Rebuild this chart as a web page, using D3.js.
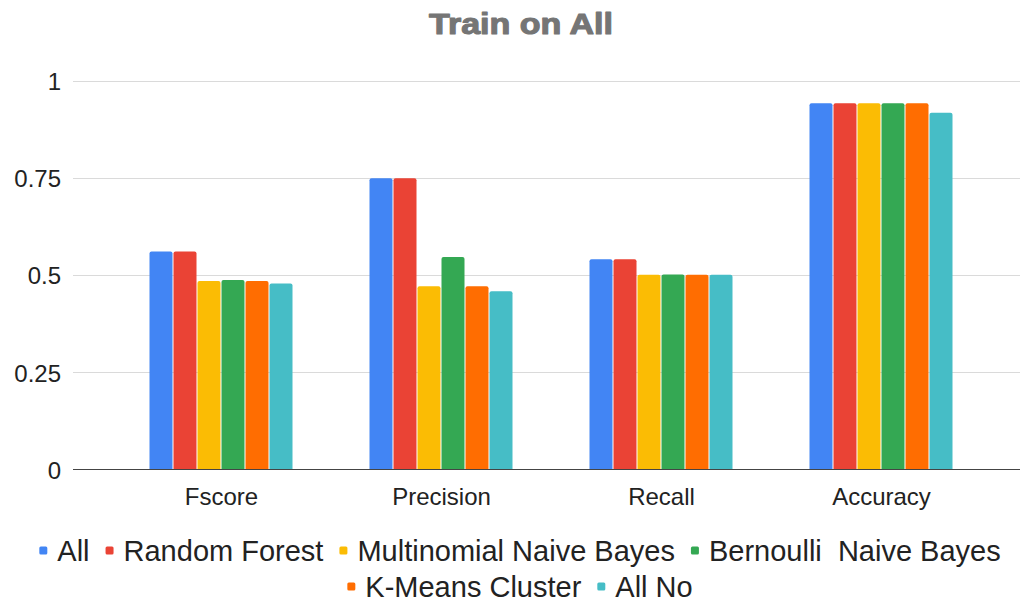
<!DOCTYPE html>
<html>
<head>
<meta charset="utf-8">
<script src="https://cdn.jsdelivr.net/npm/d3@7/dist/d3.min.js"></script>
<style>
  html, body { margin: 0; padding: 0; background: #fff; }
  svg { display: block; font-family: "Liberation Sans", Arial, sans-serif; }
</style>
</head>
<body>
<svg id="chart" width="1020" height="602"></svg>
<script>
// Metrics on the x axis
const categories = ["Fscore", "Precision", "Recall", "Accuracy"];

// One array per model, in category order
const seriesNames = ["All", "Random Forest", "Multinomial Naive Bayes", "Bernoulli  Naive Bayes", "K-Means Cluster", "All No"];
const allValues         = [0.561, 0.750, 0.541, 0.943];
const randomForest      = [0.561, 0.750, 0.541, 0.943];
const multinomialNB     = [0.485, 0.472, 0.501, 0.943];
const bernoulliNB       = [0.488, 0.547, 0.502, 0.943];
const kMeansCluster     = [0.485, 0.472, 0.501, 0.943];
const allNo             = [0.479, 0.459, 0.501, 0.918];
const seriesValues = [allValues, randomForest, multinomialNB, bernoulliNB, kMeansCluster, allNo];
const colors = ["#4285F4", "#EA4335", "#FBBC04", "#34A853", "#FF6D01", "#46BDC6"];

const yTicks = [0, 0.25, 0.5, 0.75, 1];
const yTickLabels = ["0", "0.25", "0.5", "0.75", "1"];

const svg = d3.select("#chart");

const plotLeft = 73, plotRight = 1020;
const y = d3.scaleLinear().domain([0, 1]).range([469.5, 81]);

const pi = 76 / 220;
const x0 = d3.scaleBand().domain(categories).range([111.5, 991.5])
  .paddingInner(pi).paddingOuter(pi / 2);
const x1 = d3.scaleBand().domain(seriesNames).range([0, x0.bandwidth()]);

// Title
svg.append("text")
  .attr("x", 521).attr("y", 34)
  .attr("text-anchor", "middle")
  .attr("font-size", 29).attr("font-weight", "bold")
  .attr("fill", "#757575").attr("stroke", "#757575").attr("stroke-width", 1.1)
  .attr("stroke-linejoin", "round")
  .attr("textLength", 184).attr("lengthAdjust", "spacingAndGlyphs")
  .text("Train on All");

// Gridlines
svg.append("g").selectAll("line")
  .data(yTicks.filter(d => d > 0))
  .join("line")
  .attr("x1", plotLeft).attr("x2", plotRight)
  .attr("y1", d => Math.round(y(d)) + 0.5).attr("y2", d => Math.round(y(d)) + 0.5)
  .attr("stroke", "#dadada").attr("stroke-width", 1);

// Y axis labels
const yAxis = d3.axisLeft(y).tickValues(yTicks)
  .tickFormat((d, i) => yTickLabels[i]).tickSize(0).tickPadding(0);
const yg = svg.append("g").attr("transform", "translate(61,0)").call(yAxis);
yg.select(".domain").remove();
yg.selectAll("text")
  .attr("font-size", 24).attr("fill", "#222").attr("font-family", null)
  .attr("dy", "0.36em");

// Bars
const groups = svg.append("g").selectAll("g")
  .data(categories)
  .join("g")
  .attr("transform", d => `translate(${x0(d)},0)`);

groups.selectAll("path")
  .data((c, ci) => seriesNames.map((s, si) => ({ s, si, v: seriesValues[si][ci] })))
  .join("path")
  .attr("fill", d => colors[d.si])
  .attr("d", d => {
    const bx = x1(d.s), bw = x1.bandwidth() - 1;
    const top = y(d.v), bottom = y(0), r = 2;
    return `M${bx},${bottom}V${top + r}Q${bx},${top} ${bx + r},${top}H${bx + bw - r}Q${bx + bw},${top} ${bx + bw},${top + r}V${bottom}Z`;
  });

// Baseline
svg.append("line")
  .attr("x1", plotLeft).attr("x2", plotRight)
  .attr("y1", 469.5).attr("y2", 469.5)
  .attr("stroke", "#444").attr("stroke-width", 1);

// X axis labels
const xAxis = d3.axisBottom(x0).tickSize(0).tickPadding(0);
const xg = svg.append("g").attr("transform", "translate(0,505)").call(xAxis);
xg.select(".domain").remove();
xg.selectAll("text")
  .attr("font-size", 24).attr("fill", "#222").attr("font-family", null)
  .attr("dy", 0).attr("y", 0);

// Legend, wrapped into centered rows
const legendFont = 29, markerSize = 8, markerGap = 18, itemGap = 16;
const legend = svg.append("g");
const items = seriesNames.map((name, i) => {
  const g = legend.append("g");
  g.append("rect")
    .attr("width", markerSize).attr("height", markerSize)
    .attr("rx", 1.5).attr("fill", colors[i]);
  const t = g.append("text")
    .attr("x", markerGap)
    .attr("font-size", legendFont).attr("fill", "#222")
    .style("white-space", "pre")
    .text(name);
  return { g, w: markerGap + t.node().getComputedTextLength() };
});
const maxRow = 990;
const rows = [[]];
let rowW = 0;
items.forEach(it => {
  const add = (rows[rows.length - 1].length ? itemGap : 0) + it.w;
  if (rowW + add > maxRow && rows[rows.length - 1].length) { rows.push([it]); rowW = it.w; }
  else { rows[rows.length - 1].push(it); rowW += add; }
});
const rowBaselines = [560.5, 596.5];
const legendCenter = 520;
rows.forEach((row, ri) => {
  const total = d3.sum(row, d => d.w) + itemGap * (row.length - 1);
  let cx = legendCenter - total / 2;
  row.forEach(it => {
    it.g.attr("transform", `translate(${cx},${rowBaselines[ri]})`);
    it.g.select("rect").attr("y", -14);
    cx += it.w + itemGap;
  });
});
</script>
</body>
</html>
